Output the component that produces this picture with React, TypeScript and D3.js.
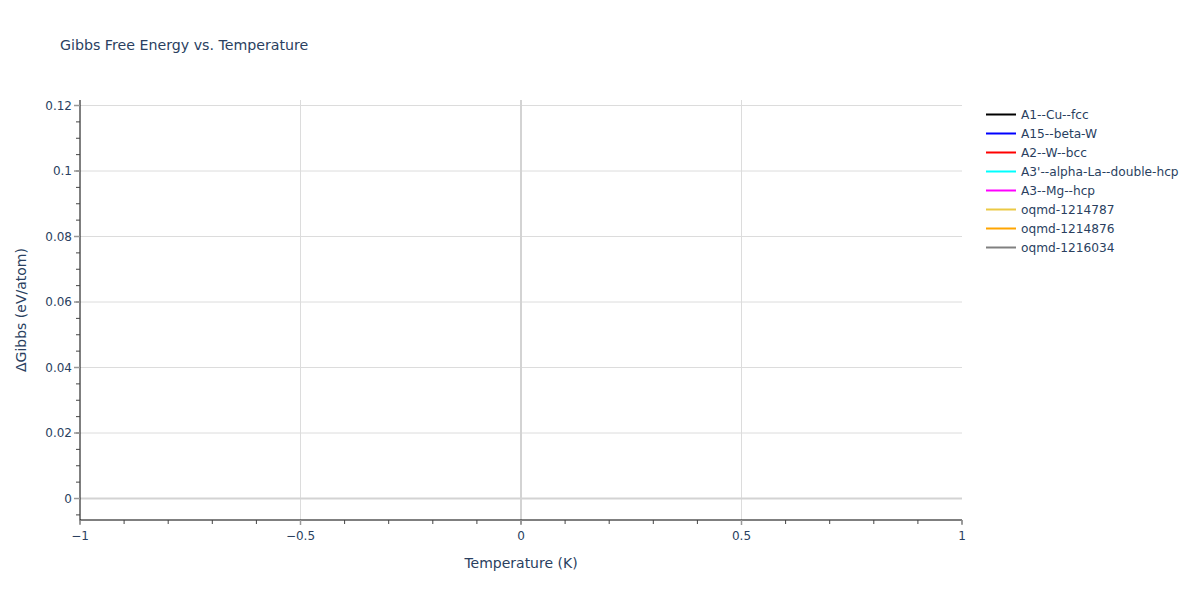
import React from "react";
import * as d3 from "d3";

const seriesNames = [
  "A1--Cu--fcc",
  "A15--beta-W",
  "A2--W--bcc",
  "A3'--alpha-La--double-hcp",
  "A3--Mg--hcp",
  "oqmd-1214787",
  "oqmd-1214876",
  "oqmd-1216034",
];
const seriesColors = ["#000000", "#0000ff", "#ff0000", "#00ffff", "#ff00ff", "#ebc944", "#ffa500", "#808080"];
// no visible data points in the reference
const seriesValues: { t: number; g: number }[][] = seriesNames.map(() => []);

const xTicks = [-1, -0.5, 0, 0.5, 1];
const yTicks = [0, 0.02, 0.04, 0.06, 0.08, 0.1, 0.12];
const xDomain: [number, number] = [-1, 1];
const yDomain: [number, number] = [-0.00656, 0.12168];

const W = 1200, H = 600;
const L = 80, R = 962, T = 100, B = 520;
const FONT = "'DejaVu Sans', Verdana, sans-serif";
const TXT = "#2a3f5f";

const fmtX = (v: number) => (v < 0 ? "\u2212" + Math.abs(v) : String(v));
const fmtY = (v: number) => (Math.abs(v) < 1e-12 ? "0" : String(+v.toFixed(2)));

export default function App() {
  const x = d3.scaleLinear().domain(xDomain).range([L, R]);
  const y = d3.scaleLinear().domain(yDomain).range([B, T]);
  const line = d3.line<{ t: number; g: number }>().x((d) => x(d.t)).y((d) => y(d.g));
  const xMinor = d3.range(-1, 1.0001, 0.1).map((v) => +v.toFixed(2));
  const yMinor = d3.range(-0.005, 0.1201, 0.005).map((v) => +v.toFixed(3));

  return (
    <svg width={W} height={H} style={{ position: "absolute", left: 0, top: 0, background: "#fff" }} fontFamily={FONT}>
      <text x={60} y={50} fontSize={14.2} fill={TXT}>Gibbs Free Energy vs. Temperature</text>
      {/* grid */}
      {xTicks.filter((v) => v !== 0 && v > -1 && v < 1).map((v) => (
        <line key={"gx" + v} x1={x(v)} x2={x(v)} y1={T} y2={B} stroke="#dcdcdc" strokeWidth={1} />
      ))}
      {yTicks.filter((v) => v !== 0).map((v) => (
        <line key={"gy" + v} x1={L} x2={R} y1={y(v)} y2={y(v)} stroke="#dcdcdc" strokeWidth={1} />
      ))}
      <line x1={x(0)} x2={x(0)} y1={T} y2={B} stroke="#d3d3d3" strokeWidth={2} />
      <line x1={L} x2={R} y1={y(0)} y2={y(0)} stroke="#d3d3d3" strokeWidth={2} />
      {/* series */}
      {seriesValues.map((vals, i) => (
        <path key={"s" + i} d={line(vals) || ""} fill="none" stroke={seriesColors[i]} strokeWidth={2} />
      ))}
      {/* axes */}
      <line x1={L} x2={L} y1={T} y2={B + 1} stroke="#000" strokeWidth={1} />
      <line x1={L} x2={R} y1={B} y2={B} stroke="#000" strokeWidth={1} />
      {xMinor.map((v) => (
        <line key={"xm" + v} x1={x(v)} x2={x(v)} y1={B} y2={B + 4} stroke="#444" strokeWidth={1} />
      ))}
      {xTicks.map((v) => (
        <line key={"xt" + v} x1={x(v)} x2={x(v)} y1={B} y2={B + 5} stroke="#999" strokeWidth={1.5} />
      ))}
      {yMinor.map((v) => (
        <line key={"ym" + v} x1={L - 4} x2={L} y1={y(v)} y2={y(v)} stroke="#444" strokeWidth={1} />
      ))}
      {yTicks.map((v) => (
        <line key={"yt" + v} x1={L - 6} x2={L} y1={y(v)} y2={y(v)} stroke="#999" strokeWidth={1.5} />
      ))}
      {xTicks.map((v) => (
        <text key={"xl" + v} x={x(v)} y={540} fontSize={12} fill={TXT} textAnchor="middle">{fmtX(v)}</text>
      ))}
      {yTicks.map((v) => (
        <text key={"yl" + v} x={72} y={y(v) + 4} fontSize={12} fill={TXT} textAnchor="end">{fmtY(v)}</text>
      ))}
      <text x={(L + R) / 2} y={568} fontSize={14} fill={TXT} textAnchor="middle">Temperature (K)</text>
      <text transform={`translate(26,${(T + B) / 2}) rotate(-90)`} fontSize={14} fill={TXT} textAnchor="middle">ΔGibbs (eV/atom)</text>
      {/* legend */}
      {seriesNames.map((n, i) => (
        <g key={"lg" + i} transform={`translate(986,${114.5 + i * 19})`}>
          <line x1={0} x2={30} y1={0} y2={0} stroke={seriesColors[i]} strokeWidth={2} />
          <text x={35} y={4} fontSize={12.2} fill={TXT}>{n}</text>
        </g>
      ))}
    </svg>
  );
}
